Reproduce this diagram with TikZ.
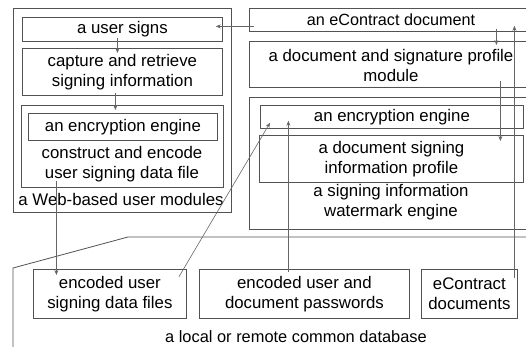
\documentclass[tikz,border=0pt]{standalone}
\usepackage{fontspec}
\setmainfont{Liberation Sans}
\usetikzlibrary{arrows.meta}
\begin{document}
\begin{tikzpicture}[x=1pt,y=-1pt,
  box/.style={draw=black!68, line width=0.8pt, inner sep=0pt, anchor=north west,
    font=\fontsize{16.8}{20}\selectfont, align=center},
  lbl/.style={inner sep=0pt, font=\fontsize{16.8}{20}\selectfont, align=center},
  link/.style={draw=black!60, line width=0.6pt, -{Stealth[length=5pt,width=4pt]}},
  edge/.style={draw=black!68, line width=0.8pt}
]
\useasboundingbox (0,0) rectangle (526,347);

% Web-based user modules
\node[box, minimum width=218pt, minimum height=204pt] (web) at (13,8) {};
\node[box, minimum width=200pt, minimum height=24pt] (us) at (22,17) {a user signs};
\node[box, minimum width=200pt, minimum height=47pt] (cap) at (22,48) {capture and retrieve\\signing information};
\node[box, minimum width=202pt, minimum height=82pt] (encLo) at (21,105) {};
\node[box, minimum width=189pt, minimum height=27pt] (encLi) at (28,113) {an encryption engine};
\node[lbl] (cons) at (122,164) {construct and encode\\user signing data file};
\node[lbl] (webl) at (121,199) {a Web-based user modules};

% document side
\node[box, minimum width=284pt, minimum height=23pt] (econ) at (249,8) {};
\node[lbl, font=\fontsize{16.2}{20}\selectfont] (econl) at (391,20) {an eContract document};
\node[box, minimum width=284pt, minimum height=46pt] (ds) at (249,41) {};
\node[lbl] (dsl) at (391,65) {a document and signature profile\\module};
\node[box, minimum width=284pt, minimum height=132pt] (wm) at (249,97) {};
\node[box, minimum width=263pt, minimum height=23pt] (encR) at (260,105) {an encryption engine};
\node[box, minimum width=264pt, minimum height=47pt] (dsp) at (259,135) {a document signing\\information profile};
\node[lbl] (wml) at (391,202) {a signing information\\watermark engine};

% common database
\coordinate (db1) at (13,350);
\coordinate (db2) at (13,268);
\coordinate (db3) at (128,237);
\coordinate (db4) at (530,237);
\draw[edge] (db1) -- (db2) -- (db3) -- (db4);
\node[box, minimum width=153pt, minimum height=49pt] (f1) at (33,269) {encoded user\\signing data files};
\node[box, minimum width=210pt, minimum height=49pt] (f2) at (199,269) {encoded user and\\document passwords};
\node[box, minimum width=96pt, minimum height=49pt] (f3) at (421,269) {eContract\\documents};
\node[lbl, font=\fontsize{16.4}{20}\selectfont] (dbl) at (296,337) {a local or remote common database};

% data flow
\draw[link] ([xshift=5pt,yshift=-6.5pt]econ.west) -- ([xshift=-7pt,yshift=3pt]us.east);
\draw[link] ([xshift=-5pt,yshift=4pt]us.south) -- ([xshift=-5pt,yshift=-5pt]cap.north);
\draw[link] ([xshift=-7pt,yshift=3pt]cap.south) -- ([xshift=-7pt,yshift=-5pt]encLo.north);
\draw[link] ([xshift=-66pt,yshift=7pt]encLo.south) -- ([xshift=-53.5pt,yshift=-6pt]f1.north);
\draw[link] ([xshift=-8pt,yshift=-8pt]f1.north east) -- ([xshift=10pt,yshift=6pt]encR.south west);
\draw[link] ([xshift=-16pt,yshift=-3pt]f2.north) -- ([xshift=-103.5pt,yshift=8pt]encR.south);
\draw[link] ([xshift=45pt,yshift=-9pt]f3.north) -- ([xshift=123pt,yshift=6pt]econ.south);
\draw[link] ([xshift=105pt,yshift=3pt]econ.south) -- ([xshift=105pt,yshift=-4pt]ds.north);
\draw[link] ([xshift=109pt,yshift=7pt]ds.south) -- ([xshift=109pt,yshift=-6pt]dsp.north);
\end{tikzpicture}
\end{document}
